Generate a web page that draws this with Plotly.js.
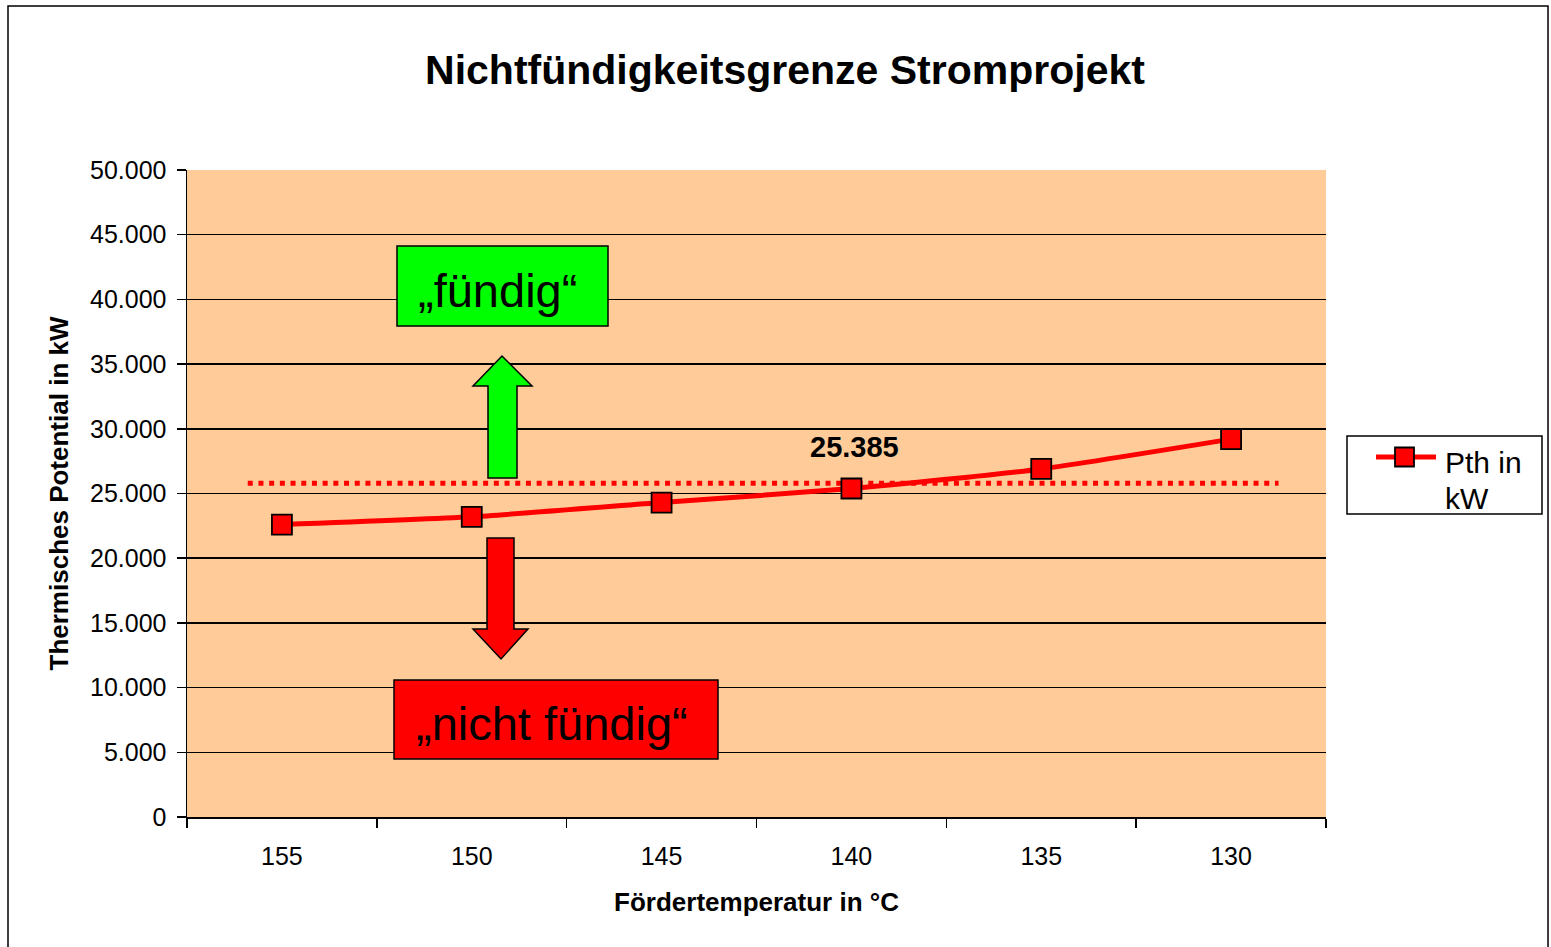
<!DOCTYPE html>
<html>
<head>
<meta charset="utf-8">
<script src="https://cdn.plot.ly/plotly-3.0.1.min.js"></script>
<style>html,body{margin:0;padding:0;background:#fff;}#chart{width:1551px;height:947px;}</style>
</head>
<body>
<div id="chart"></div>
<script>
// ---- data ----
const categories = ["155", "150", "145", "140", "135", "130"];
const pthValues = [22600, 23200, 24300, 25385, 26900, 29200];
const seriesName = "Pth in kW";
const legendLines = ["Pth in", "kW"];
const thresholdValue = 25800;          // dotted limit line
const labelIndex = 3;                  // data label at 140 °C
const yTicks = [0, 5000, 10000, 15000, 20000, 25000, 30000, 35000, 40000, 45000, 50000];

// ---- geometry helpers (pixel -> paper) ----
const W = 1551, H = 947;
const L = 187, R = 1326, T = 170, B = 817;
const px = x => (x - L) / (R - L);
const py = y => (B - y) / (B - T);
const pathOf = pts => "M " + pts.map(p => px(p[0]).toFixed(5) + "," + py(p[1]).toFixed(5)).join(" L ") + " Z";

const FONT = "Liberation Sans, Arial, sans-serif";
const RED = "#FF0000", GREEN = "#00FF00";

const trace = {
  x: categories,
  y: pthValues,
  type: "scatter",
  mode: "lines+markers",
  name: seriesName,
  showlegend: false,
  line: {color: RED, width: 5, shape: "spline", smoothing: 0.6},
  marker: {symbol: "square", size: 20, color: RED, line: {color: "#000000", width: 1.8}}
};

function fmt(v) { return String(v).replace(/\B(?=(\d{3})+(?!\d))/g, "."); }

const shapes = [
  // outer frame
  {type: "rect", xref: "paper", yref: "paper", x0: px(8), x1: px(1548), y0: py(6), y1: py(960),
   line: {color: "#000", width: 1.5}, fillcolor: "rgba(0,0,0,0)", layer: "below"},
  // threshold dotted line
  {type: "line", xref: "x", yref: "y", x0: -0.18, x1: 5.25, y0: thresholdValue, y1: thresholdValue,
   line: {color: RED, width: 5, dash: "5px,5.7px"}, layer: "below"},
  // green box
  {type: "rect", xref: "paper", yref: "paper", x0: px(397), x1: px(608), y0: py(326), y1: py(246),
   fillcolor: GREEN, line: {color: "#000", width: 1.5}},
  // green arrow up
  {type: "path", xref: "paper", yref: "paper",
   path: pathOf([[488,478],[488,386],[473,386],[502,356],[532,386],[517,386],[517,478]]),
   fillcolor: GREEN, line: {color: "#000", width: 1.5}},
  // red arrow down
  {type: "path", xref: "paper", yref: "paper",
   path: pathOf([[487,538],[514,538],[514,629],[528,629],[501,659],[473,629],[487,629]]),
   fillcolor: RED, line: {color: "#000", width: 1.5}},
  // red box
  {type: "rect", xref: "paper", yref: "paper", x0: px(394), x1: px(718), y0: py(759), y1: py(680),
   fillcolor: RED, line: {color: "#000", width: 1.5}},
  // legend box
  {type: "rect", xref: "paper", yref: "paper", x0: px(1347), x1: px(1542), y0: py(514), y1: py(436),
   fillcolor: "#FFFFFF", line: {color: "#000", width: 1.5}},
  // legend line sample
  {type: "line", xref: "paper", yref: "paper", x0: px(1376), x1: px(1436), y0: py(457), y1: py(457),
   line: {color: RED, width: 5}},
  // legend marker sample
  {type: "rect", xref: "paper", yref: "paper", x0: px(1395), x1: px(1414), y0: py(466.5), y1: py(447.5),
   fillcolor: RED, line: {color: "#000", width: 1.8}}
];

const annotations = [
  {xref: "paper", yref: "paper", x: px(497), y: py(290), text: "„fündig“", showarrow: false,
   font: {family: FONT, size: 47, color: "#000"}, xanchor: "center", yanchor: "middle"},
  {xref: "paper", yref: "paper", x: px(552), y: py(723), text: "„nicht fündig“", showarrow: false,
   font: {family: FONT, size: 47, color: "#000"}, xanchor: "center", yanchor: "middle"},
  {xref: "x", yref: "y", x: labelIndex, y: pthValues[labelIndex], text: "<b>" + fmt(pthValues[labelIndex]) + "</b>",
   showarrow: false, xshift: 3, yshift: 42, xanchor: "center", yanchor: "middle",
   font: {family: FONT, size: 29, color: "#000"}},
  {xref: "paper", yref: "paper", x: px(1443), y: py(462), text: legendLines[0], showarrow: false,
   xanchor: "left", yanchor: "middle", font: {family: FONT, size: 30, color: "#000"}},
  {xref: "paper", yref: "paper", x: px(1443), y: py(498), text: legendLines[1], showarrow: false,
   xanchor: "left", yanchor: "middle", font: {family: FONT, size: 30, color: "#000"}}
];

const layout = {
  width: W, height: H,
  margin: {l: L, r: W - R, t: T, b: H - B},
  paper_bgcolor: "#FFFFFF",
  plot_bgcolor: "#FFCC99",
  font: {family: FONT, color: "#000"},
  showlegend: false,
  title: {text: "<b>Nichtfündigkeitsgrenze Stromprojekt</b>", x: 785 / W, xref: "container", xanchor: "center",
          y: 1 - 70 / H, yref: "container", yanchor: "middle", font: {family: FONT, size: 41, color: "#000"}},
  xaxis: {
    type: "category", range: [-0.5, 5.5], tickson: "boundaries",
    ticks: "outside", ticklen: 9, tickwidth: 1.5, tickcolor: "#000",
    showline: true, linecolor: "#000", linewidth: 1.5, showgrid: false, zeroline: false,
    ticklabelstandoff: 16,
    tickfont: {family: FONT, size: 25, color: "#000"},
    title: {text: "<b>Fördertemperatur in °C</b>", font: {family: FONT, size: 26, color: "#000"}, standoff: 24}
  },
  yaxis: {
    range: [0, 50000], tickvals: yTicks, ticktext: yTicks.map(fmt),
    ticks: "outside", ticklen: 9, tickwidth: 1.5, tickcolor: "#000",
    showline: true, linecolor: "#000", linewidth: 1.5,
    showgrid: true, gridcolor: "#000", gridwidth: 1.5, zeroline: false,
    ticklabelstandoff: 5,
    tickfont: {family: FONT, size: 25, color: "#000"},
    title: {text: "<b>Thermisches Potential in kW</b>", font: {family: FONT, size: 26, color: "#000"}, standoff: 14}
  },
  shapes: shapes,
  annotations: annotations
};

Plotly.newPlot("chart", [trace], layout, {displayModeBar: false, staticPlot: true});
</script>
</body>
</html>
